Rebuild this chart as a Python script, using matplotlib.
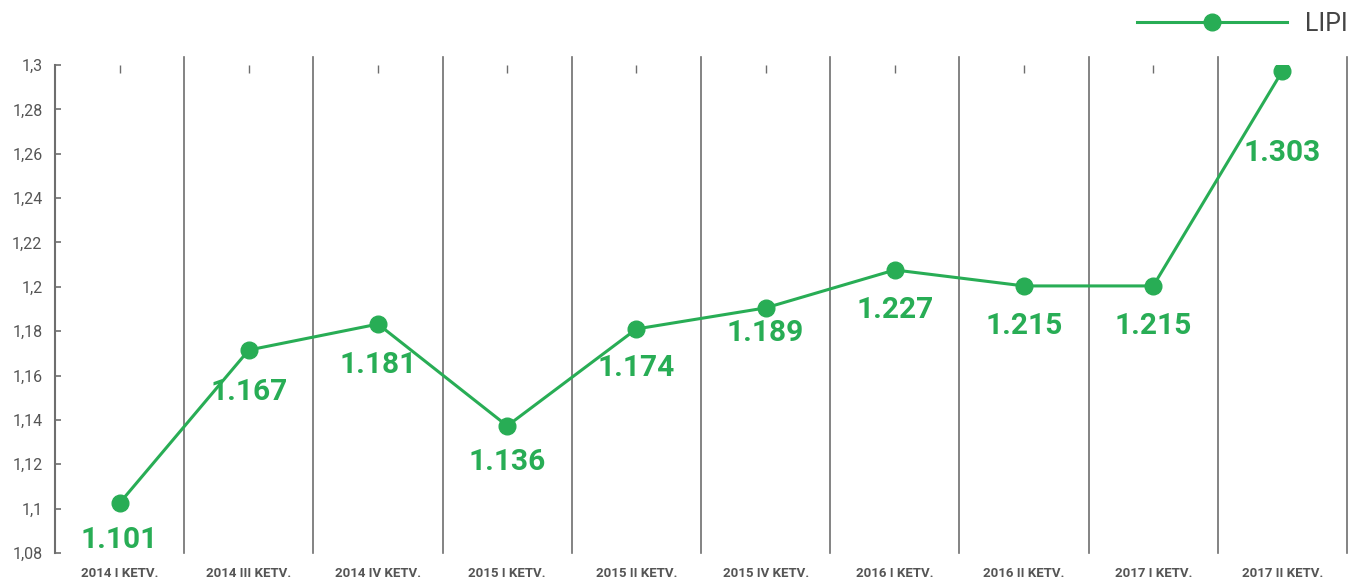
import numpy as np
import matplotlib.pyplot as plt
from matplotlib.ticker import FuncFormatter

# quarters and LIPI index values
quarters = ['2014 I KETV.', '2014 III KETV.', '2014 IV KETV.', '2015 I KETV.',
            '2015 II KETV.', '2015 IV KETV.', '2016 I KETV.', '2016 II KETV.',
            '2017 I KETV.', '2017 II KETV.']
# point heights as drawn in the chart
lipi_plot = [1.1025, 1.1715, 1.1832, 1.1373, 1.181, 1.1905, 1.2076, 1.2004, 1.2004, 1.2973]
# value labels as printed
lipi_labels = ['1.101', '1.167', '1.181', '1.136', '1.174', '1.189', '1.227', '1.215', '1.215', '1.303']

green = '#28ad55'
grey = '#6e6e6e'

plt.rcParams['font.family'] = ['Roboto', 'DejaVu Sans']

fig = plt.figure(figsize=(13.49, 5.78), dpi=100)
ax = fig.add_axes([55 / 1349, 1 - 553 / 578, 1292 / 1349, 488 / 578])

x = np.arange(len(quarters))
ax.plot(x, lipi_plot, color=green, lw=2.2, marker='o', ms=12, label='LIPI', zorder=3)

# value labels under points (pixel offsets downward)
offsets = [-37, -42, -41, -36, -39, -25, -40, -40, -40, -82]
for xi, yi, lab, off in zip(x, lipi_plot, lipi_labels, offsets):
    ax.annotate(lab, (xi, yi), xytext=(0, off * 0.72), textcoords='offset points',
                ha='center', va='center', fontsize=21.5, fontweight='bold', color=green)

# vertical separators between quarters
for k in range(len(quarters)):
    ax.axvline(k + 0.5, ymin=0, ymax=1.016, color=grey, lw=1.2, clip_on=False, zorder=1)

ax.set_xlim(-0.5, len(quarters) - 0.5)
ax.set_ylim(1.08, 1.30)
ax.set_yticks(np.arange(1.08, 1.3001, 0.02))
ax.yaxis.set_major_formatter(FuncFormatter(lambda v, p: ('%g' % round(v, 2)).replace('.', ',')))

ax.set_xticks(x)
ax.set_xticklabels(quarters, fontsize=9.5, fontweight='bold', color='#555555')
ax.tick_params(axis='x', which='both', bottom=False, top=True, direction='in',
               length=5.5, width=1, color=grey, pad=10, labelbottom=True, labeltop=False)
ax.tick_params(axis='y', direction='in', length=4, width=1.2, color=grey,
               labelsize=11.5, labelcolor='#555555', pad=9)

for s in ['top', 'right', 'bottom']:
    ax.spines[s].set_visible(False)
ax.spines['left'].set_color(grey)
ax.spines['left'].set_linewidth(1.5)

leg = ax.legend(loc='upper right', bbox_to_anchor=(1348 / 1349, 1 - 12 / 578), bbox_transform=fig.transFigure,
                frameon=False, fontsize=18, handlelength=6.0, handletextpad=0.75,
                borderaxespad=0, borderpad=0)
for t in leg.get_texts():
    t.set_color('#444444')

fig.savefig('out.png', dpi=100)
